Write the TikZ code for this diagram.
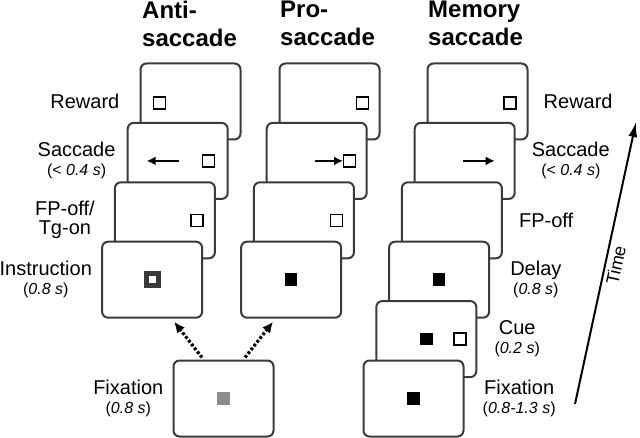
\documentclass[tikz,border=0pt]{standalone}
\usepackage{fontspec}
\setmainfont{Liberation Sans}
\usetikzlibrary{positioning,arrows.meta}

\definecolor{framegray}{HTML}{3A3A3A}
\definecolor{fixgray}{HTML}{8C8C8C}

\newcommand\dur[1]{{\fontsize{16}{18}\selectfont(#1)}}

\tikzset{
  card/.style={draw=framegray, line width=2pt, rounded corners=6pt, fill=white,
    minimum width=100pt, minimum height=76pt, inner sep=0pt},
  head/.style={font=\bfseries\fontsize{24}{28}\selectfont, align=left, inner sep=0pt, anchor=north west},
  lbl/.style={font=\fontsize{20}{19}\selectfont, align=center, inner sep=0pt},
  sqopen/.style={draw=black, line width=1.4pt, fill=white, minimum size=12pt, inner sep=0pt},
  sqfull/.style={fill=black, minimum size=12.5pt, inner sep=0pt},
  sqcue/.style={draw=framegray, line width=5pt, fill=white, minimum size=12pt, inner sep=0pt},
  sqfix/.style={fill=fixgray, minimum size=13pt, inner sep=0pt},
  sacc/.style={line width=2.4pt, -{Latex[length=9pt,width=9pt]}},
  dotarrow/.style={line width=3.2pt, dash pattern=on 2.8pt off 2pt, -{Latex[length=11pt,width=10pt]}},
  timearrow/.style={line width=2pt, -{Latex[length=15pt,width=9pt]}}
}

\begin{document}
\begin{tikzpicture}[x=1pt, y=-1pt]
  \useasboundingbox (0,0) rectangle (640,438);

  % column headings
  \node[head] (antihead) at (142,1) {Anti-\\saccade};
  \node[head] (prohead)  at (280,1) {Pro-\\saccade};
  \node[head] (memhead)  at (428,1) {Memory\\saccade};

  % screens, top one first so the lower ones lie over it
  \foreach \col/\x/\n in {anti/190.5/4, pro/329.5/4, mem/477.5/6} {
    \foreach \i in {1,...,\n} {
      \node[card] (\col\i) at ({\x-12.8*(\i-1)}, {101.5+59.4*(\i-1)}) {};
    }
  }
  \node[card] (fix) at (223.5,398.5) {};

  % anti-saccade screens
  \node[sqopen] (antirew) at ([xshift=20pt,yshift=-1.5pt]anti1.west) {};
  \node[sqopen] (antitg)  at ([xshift=31pt]anti2.center) {};
  \coordinate (antis0) at ([xshift=1pt]anti2.center);
  \coordinate (antis1) at ([xshift=-31pt]anti2.center);
  \draw[sacc] (antis0) -- (antis1);
  \node[sqopen] (antifp)   at ([xshift=32pt]anti3.center) {};
  \node[sqcue]  (antiinst) at (anti4.center) {};

  % pro-saccade screens
  \node[sqopen] (prorew) at ([xshift=33pt,yshift=-1.5pt]pro1.center) {};
  \node[sqopen] (protg)  at ([xshift=33pt]pro2.center) {};
  \coordinate (pros0) at ([xshift=-2pt]pro2.center);
  \draw[sacc] (pros0) -- (protg);
  \node[sqopen] (profp)   at ([xshift=32.5pt]pro3.center) {};
  \node[sqfull] (proinst) at (pro4.center) {};

  % memory saccade screens
  \node[sqopen] (memrew) at ([xshift=32.5pt,yshift=-1.5pt]mem1.center) {};
  \coordinate (mems0) at ([xshift=-2pt]mem2.center);
  \coordinate (mems1) at ([xshift=30pt]mem2.center);
  \draw[sacc] (mems0) -- (mems1);
  \node[sqfull] (memdel)  at (mem4.center) {};
  \node[sqfull] (memcfp)  at (mem5.center) {};
  \node[sqopen] (memcue)  at ([xshift=33.5pt]mem5.center) {};
  \node[sqfull] (memfix)  at (mem6.center) {};

  % shared fixation screen
  \node[sqfix] (fixfp) at (fix.center) {};
  \draw[dotarrow] ([xshift=-21.5pt,yshift=2pt]fix.north) -- ([xshift=22pt,yshift=-3pt]anti4.south);
  \draw[dotarrow] ([xshift=21.5pt,yshift=2pt]fix.north) -- ([xshift=-18pt,yshift=-3pt]pro4.south);

  % labels, left side
  \node[lbl, left=20pt of anti1] (lrew)  {Reward};
  \node[lbl, left=11pt of anti2] (lsac)  {Saccade\\\dur{< \textit{0.4 s}}};
  \node[lbl, left=19pt of anti3] (lfp)   {FP-off/\\Tg-on};
  \node[lbl, left=9pt of anti4]  (linst) {Instruction\\\dur{\textit{0.8 s}}};
  \node[lbl, left=9pt of fix]    (lfix)  {Fixation\\\dur{\textit{0.8 s}}};

  % labels, right side
  \node[lbl, right=15pt of mem1] (rrew) {Reward};
  \node[lbl, right=16pt of mem2] (rsac) {Saccade\\\dur{< \textit{0.4 s}}};
  \node[lbl, right=16pt of mem3] (rfp)  {FP-off};
  \node[lbl, right=20pt of mem4] (rdel) {Delay\\\dur{\textit{0.8 s}}};
  \node[lbl, right=17pt of mem5] (rcue) {Cue\\\dur{\textit{0.2 s}}};
  \node[lbl, right=18pt of mem6] (rfix) {Fixation\\\dur{\textit{0.8-1.3 s}}};

  % time axis
  \coordinate (t0) at (575,404);
  \coordinate (t1) at (636,122);
  \draw[timearrow] (t0) -- (t1)
    node[pos=0.5, sloped, below, inner sep=3pt, font=\fontsize{18}{18}\selectfont] (timelbl) {Time};
\end{tikzpicture}
\end{document}
